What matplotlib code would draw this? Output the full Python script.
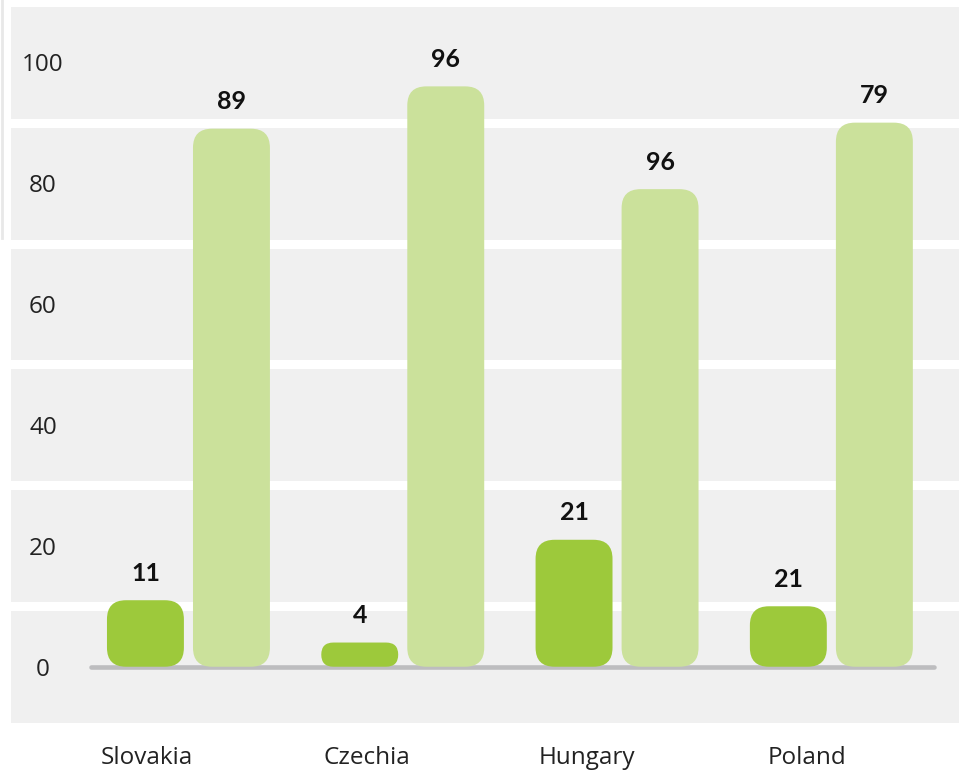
import matplotlib.pyplot as plt
import numpy as np
from matplotlib.patches import FancyBboxPatch, BoxStyle
from matplotlib.lines import Line2D

# data
countries = ['Slovakia', 'Czechia', 'Hungary', 'Poland']
dark_values = [11, 4, 21, 10]
light_values = [89, 96, 79, 90]
# the printed labels do not all match the bar heights in the original
dark_labels = ['11', '4', '21', '21']
light_labels = ['89', '96', '96', '79']
y_ticks = [0, 20, 40, 60, 80, 100]

dark_green = '#9dc93b'
light_green = '#cbe19b'
band_grey = '#f0f0f0'

plt.rcParams['font.family'] = ['Lato', 'DejaVu Sans']
tick_font = ['Open Sans', 'DejaVu Sans']

W, H = 965, 771
fig = plt.figure(figsize=(W / 100, H / 100), dpi=100)
fig.patch.set_facecolor('white')

# axes box = the grey band area
left_px, right_px, top_px, bottom_px = 11, 959.3, 6.7, 722.7
ax = fig.add_axes([left_px / W, 1 - bottom_px / H,
                   (right_px - left_px) / W, (bottom_px - top_px) / H])
ax.set_facecolor(band_grey)

ax.set_xlim(-0.828, 3.597)
ax.set_ylim(-9.26, 109.18)

x = np.arange(len(countries))
width = 0.359
off = 0.2007

# white gaps between the grey bands
ax.set_yticks([10, 30, 50, 70, 90], minor=True)
ax.grid(which='minor', axis='y', color='white', linewidth=6.5)
ax.tick_params(which='minor', length=0)

# baseline
ax.plot([-0.455, 3.48], [0, 0], color='#bdbdbf', linewidth=3.3,
        solid_capstyle='round', zorder=2)

bars_dark = ax.bar(x - off, dark_values, width, color=dark_green, zorder=3)
bars_light = ax.bar(x + off, light_values, width, color=light_green, zorder=3)

# swap the plain rectangles for rounded ones
p0 = ax.transData.transform((0, 0))
px_x = ax.transData.transform((1, 0))[0] - p0[0]
px_y = ax.transData.transform((0, 1))[1] - p0[1]
aspect = px_x / px_y
radius_px = 19

for bars in (bars_dark, bars_light):
    for rect in bars:
        bx, by = rect.get_x(), rect.get_y()
        bw, bh = rect.get_width(), rect.get_height()
        r = min(radius_px / px_x, bw / 2, bh / aspect / 2)
        patch = FancyBboxPatch((bx, by), bw, bh,
                               boxstyle=BoxStyle.Round(pad=0, rounding_size=r),
                               mutation_aspect=aspect,
                               facecolor=rect.get_facecolor(),
                               edgecolor='none', zorder=3)
        ax.add_patch(patch)
        rect.set_visible(False)

for bars, labels in ((bars_dark, dark_labels), (bars_light, light_labels)):
    for rect, lab in zip(bars, labels):
        ax.annotate(lab, (rect.get_x() + rect.get_width() / 2, rect.get_height()),
                    xytext=(0, 19.5), textcoords='offset points',
                    ha='center', va='center', fontsize=18, fontweight='bold',
                    color='#111111')

# axis ticks
ax.set_yticks(y_ticks)
ax.set_yticklabels([str(v) for v in y_ticks])
ax.tick_params(axis='y', length=0, pad=-23, labelsize=17.5, labelcolor='#222222')
for t in ax.get_yticklabels():
    t.set_horizontalalignment('center')
    t.set_family(tick_font)

ax.set_xticks(x * 1.026 - 0.194)
ax.set_xticklabels(countries)
ax.tick_params(axis='x', length=0, pad=17, labelsize=17.5, labelcolor='#222222')
for t in ax.get_xticklabels():
    t.set_family(tick_font)

for s in ax.spines.values():
    s.set_visible(False)

# thin grey line on the left edge of the picture
fig.add_artist(Line2D([2 / W, 2 / W], [1, 1 - 238 / H], color='#e8e8e8',
                      linewidth=2, transform=fig.transFigure))

fig.savefig('out.png', dpi=100, facecolor='white')
